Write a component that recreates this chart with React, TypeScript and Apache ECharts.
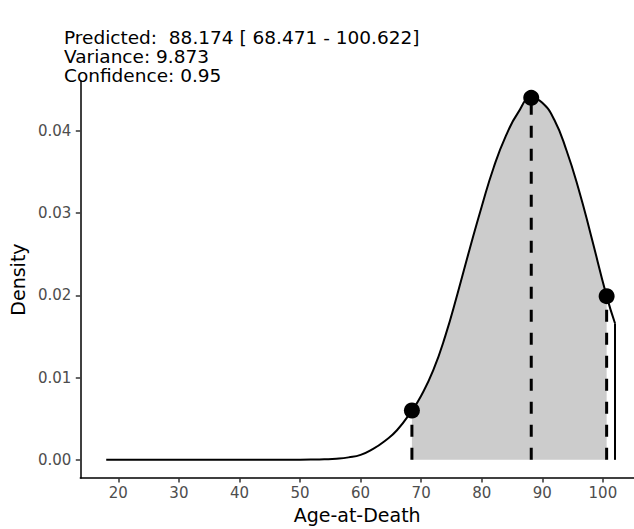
import React, { useEffect, useRef } from "react";
import * as echarts from "echarts";

// Density curve
const ageX = [18, 20, 25, 30, 35, 40, 45, 50, 52, 54, 56, 58, 60, 62, 64, 66, 68.471, 70, 72, 74, 76, 78, 80, 82, 84, 86, 88.174, 90, 92, 94, 96, 98, 100.622, 102];
const density = [0, 0, 0, 0, 0, 0, 0, 0.00001, 0.00003, 0.00007, 0.00014, 0.0003, 0.0006, 0.0013, 0.0023, 0.0036, 0.006, 0.0078, 0.0109, 0.0151, 0.0202, 0.0256, 0.0308, 0.0356, 0.0394, 0.0422, 0.044, 0.0434, 0.0413, 0.0376, 0.0329, 0.0274, 0.0199, 0.0166];

// Predicted value and interval
const markerAges = [68.471, 88.174, 100.622];
const markerDensity = [0.006, 0.044, 0.0199];

const xTicks = [20, 30, 40, 50, 60, 70, 80, 90, 100];
const yTicks = [0, 0.01, 0.02, 0.03, 0.04];

const titleLines = [
  "Predicted:  88.174 [ 68.471 - 100.622]",
  "Variance: 9.873",
  "Confidence: 0.95",
];

const FONT = "DejaVu Sans";

export default function App() {
  const ref = useRef<HTMLDivElement>(null);

  useEffect(() => {
    if (!ref.current) return;
    const chart = echarts.init(ref.current, null, { renderer: "svg" });

    const curve = ageX.map((x, i) => [x, density[i]]);
    const lo = markerAges[0];
    const hi = markerAges[markerAges.length - 1];
    const shaded = curve.filter((p) => p[0] >= lo && p[0] <= hi);
    const last = curve[curve.length - 1];
    const drop = [last, [last[0], 0]];

    const dashed = markerAges.map((x, i) => ({
      type: "line",
      data: [
        [x, 0],
        [x, markerDensity[i]],
      ],
      symbol: "none",
      silent: true,
      z: 3,
      lineStyle: { color: "#000", width: 3, type: [12, 11] },
    }));

    const titleGraphics = titleLines.map((t, i) => ({
      type: "text",
      left: 64,
      top: 28 + i * 19,
      silent: true,
      style: {
        text: t,
        fontFamily: FONT,
        fontSize: 18.5,
        fill: "#000",
      },
    }));

    chart.setOption({
      animation: false,
      graphic: titleGraphics,
      grid: { left: 77, right: 0, top: 81, bottom: 41.3, containLabel: false },
      xAxis: {
        type: "value",
        min: 13.72,
        max: 105.14,
        name: "Age-at-Death",
        nameLocation: "middle",
        nameGap: 25,
        nameTextStyle: { fontFamily: FONT, fontSize: 19, color: "#000" },
        axisLine: { show: true, onZero: false, lineStyle: { color: "#000", width: 1.5 } },
        axisTick: { show: true, length: 4.5, customValues: xTicks, lineStyle: { color: "#333", width: 1.5 } },
        axisLabel: {
          customValues: xTicks,
          margin: 7,
          fontFamily: FONT,
          fontSize: 15,
          color: "#4d4d4d",
        },
        splitLine: { show: false },
      },
      yAxis: {
        type: "value",
        min: -0.00222,
        max: 0.04605,
        name: "Density",
        nameLocation: "middle",
        nameGap: 45,
        nameTextStyle: { fontFamily: FONT, fontSize: 19, color: "#000" },
        axisLine: { show: true, onZero: false, lineStyle: { color: "#000", width: 1.5 } },
        axisTick: { show: true, length: 4.5, customValues: yTicks, lineStyle: { color: "#333", width: 1.5 } },
        axisLabel: {
          customValues: yTicks,
          margin: 9,
          fontFamily: FONT,
          fontSize: 15,
          color: "#4d4d4d",
          formatter: (v: number) => v.toFixed(2),
        },
        splitLine: { show: false },
      },
      series: [
        {
          type: "line",
          data: shaded,
          symbol: "none",
          smooth: 0.5,
          silent: true,
          z: 1,
          lineStyle: { width: 0, opacity: 0 },
          areaStyle: { color: "#cccccc", opacity: 1, origin: 0 },
        },
        ...dashed,
        {
          type: "line",
          data: curve,
          symbol: "none",
          smooth: 0.5,
          silent: true,
          z: 4,
          lineStyle: { color: "#000", width: 2 },
        },
        {
          type: "line",
          data: drop,
          symbol: "none",
          silent: true,
          z: 4,
          lineStyle: { color: "#000", width: 2 },
        },
        {
          type: "scatter",
          data: markerAges.map((x, i) => [x, markerDensity[i]]),
          symbol: "circle",
          symbolSize: 16,
          silent: true,
          z: 5,
          itemStyle: { color: "#000", opacity: 1 },
        },
      ],
    });

    return () => chart.dispose();
  }, []);

  return (
    <div
      ref={ref}
      style={{ position: "absolute", left: 0, top: 0, width: 634, height: 529 }}
    />
  );
}
